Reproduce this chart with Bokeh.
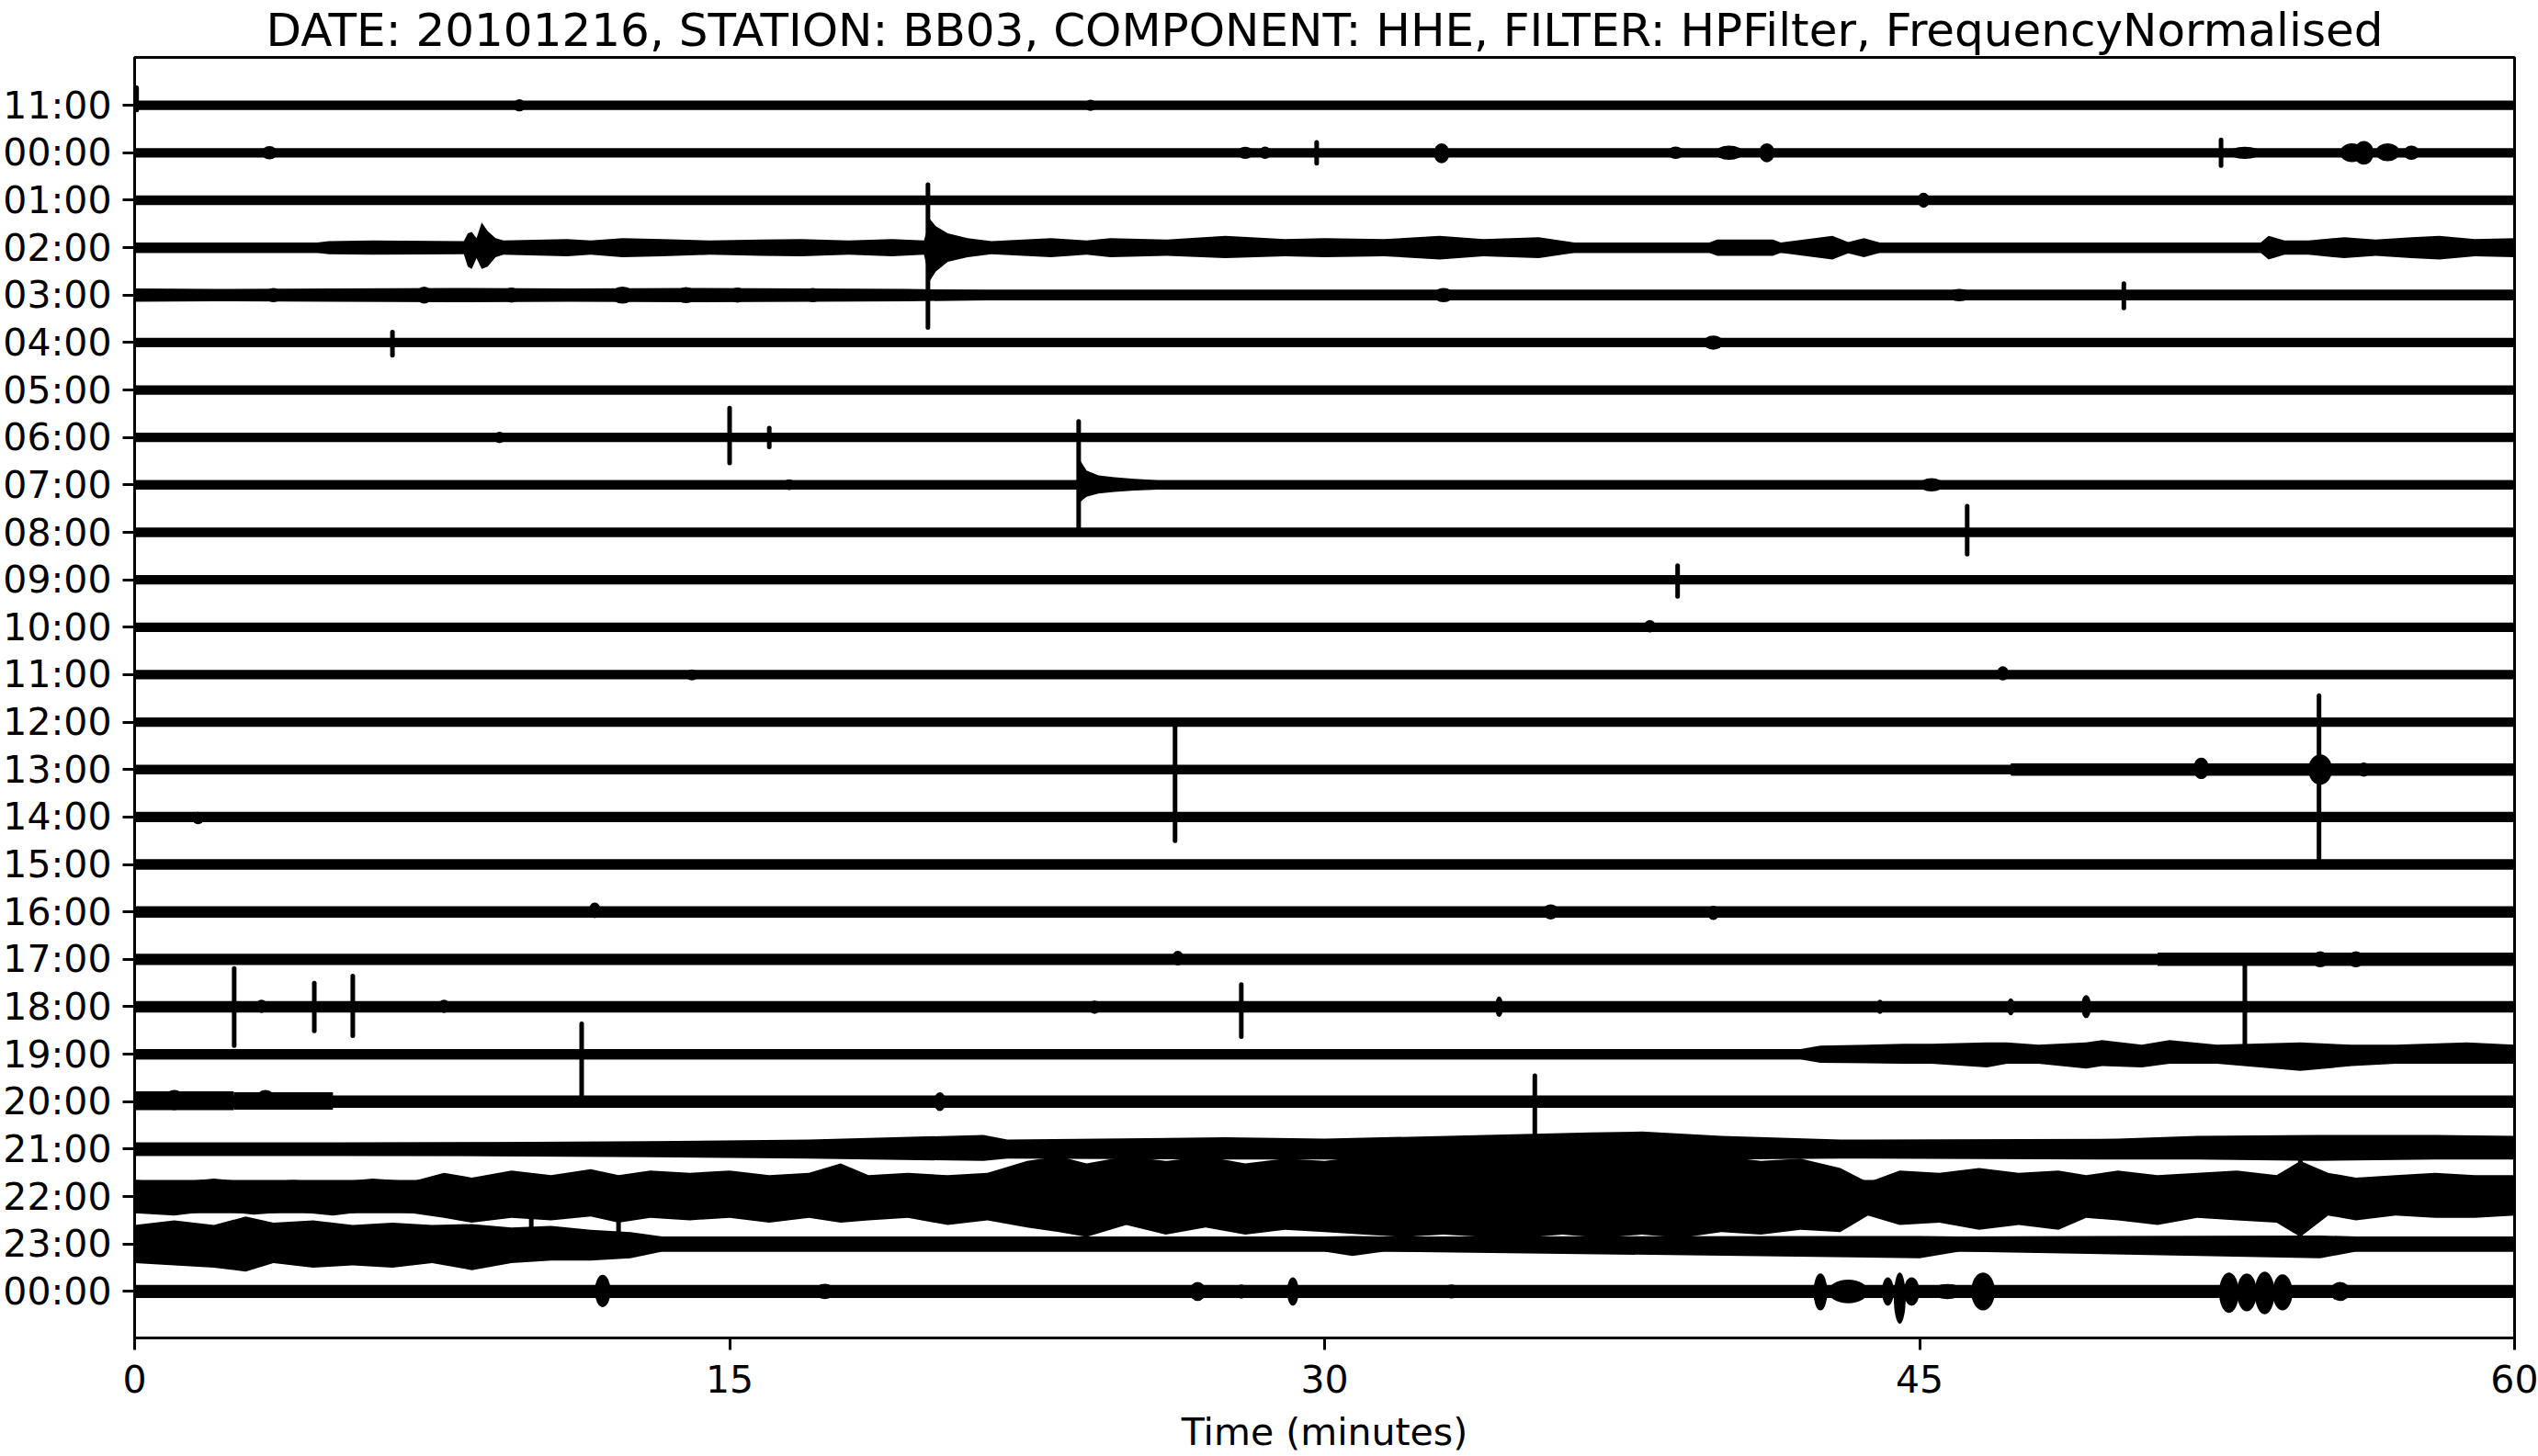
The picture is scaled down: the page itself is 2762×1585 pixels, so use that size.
from bokeh.plotting import figure
from bokeh.models import Range1d, FixedTicker, ColumnDataSource
from bokeh.embed import file_html
from bokeh.resources import INLINE

TITLE = "DATE: 20101216, STATION: BB03, COMPONENT: HHE, FILTER: HPFilter, FrequencyNormalised"

# ---- row labels (top to bottom) ----
row_labels = ["11:00", "00:00", "01:00", "02:00", "03:00", "04:00", "05:00", "06:00",
              "07:00", "08:00", "09:00", "10:00", "11:00", "12:00", "13:00", "14:00",
              "15:00", "16:00", "17:00", "18:00", "19:00", "20:00", "21:00", "22:00",
              "23:00", "00:00"]
x_ticks = [0, 15, 30, 45, 60]

# baseline noise half-amplitude per row (row spacing = 1)
noise_amp = [0.10, 0.10, 0.10, 0.11, 0.11, 0.10, 0.10, 0.10,
             0.10, 0.10, 0.10, 0.10, 0.10, 0.10, 0.10, 0.11,
             0.11, 0.12, 0.12, 0.12, 0.11, 0.13, 0.14, 0.35,
             0.16, 0.14]

# noisy segments: row, start minute, end minute, amplitude up, amplitude down
seg_row = [14, 18, 21, 21]
seg_t0 = [47.3, 51.0, 0.0, 2.5]
seg_t1 = [60.0, 60.0, 2.5, 5.0]
seg_up = [0.13, 0.14, 0.22, 0.2]
seg_dn = [0.13, 0.14, 0.18, 0.17]

# short bursts: row, centre minute, duration, amplitude up, amplitude down
burst_row = [0, 0,
             1, 1, 1, 1, 1, 1, 1, 1, 1, 1, 1, 1,
             2,
             4, 4, 4, 4, 4, 4, 4, 4, 4,
             5,
             7,
             8, 8,
             11,
             12, 12,
             14, 14, 14,
             15,
             17, 17, 17,
             18, 18, 18,
             19, 19, 19, 19, 19, 19, 19,
             21, 21, 21,
             25, 25, 25, 25, 25, 25, 25, 25, 25, 25, 25, 25, 25, 25, 25, 25, 25, 25]
burst_t = [9.7, 24.1,
           3.4, 28.0, 28.5, 32.95, 38.85, 40.2, 41.15, 53.2, 55.9, 56.2, 56.8, 57.4,
           45.1,
           3.5, 7.3, 9.5, 12.3, 13.9, 15.2, 17.1, 33.0, 46.0,
           39.8,
           9.2,
           16.5, 45.3,
           38.2,
           14.05, 47.1,
           52.1, 55.1, 56.2,
           1.6,
           11.6, 35.7, 39.8,
           26.3, 55.1, 56.0,
           3.2, 7.8, 24.2, 34.4, 44.0, 47.3, 49.2,
           1.0, 3.3, 20.3,
           11.8, 17.4, 26.8, 27.9, 29.2, 33.2, 42.5, 43.2, 44.2, 44.5, 44.8, 45.7, 46.6,
           52.8, 53.25, 53.7, 54.15, 55.6]
burst_dur = [0.3, 0.3,
             0.4, 0.4, 0.3, 0.4, 0.4, 0.7, 0.4, 0.8, 0.6, 0.5, 0.6, 0.4,
             0.3,
             0.4, 0.4, 0.4, 0.6, 0.5, 0.4, 0.4, 0.5, 0.6,
             0.5,
             0.3,
             0.3, 0.6,
             0.3,
             0.3, 0.3,
             0.4, 0.6, 0.3,
             0.3,
             0.3, 0.4, 0.3,
             0.3, 0.4, 0.4,
             0.3, 0.3, 0.3, 0.2, 0.2, 0.2, 0.25,
             0.5, 0.5, 0.3,
             0.4, 0.5, 0.4, 0.3, 0.3, 0.4, 0.35, 1.0, 0.3, 0.3, 0.4, 0.8, 0.6,
             0.5, 0.5, 0.5, 0.5, 0.5]
burst_up = [0.13, 0.12,
            0.14, 0.13, 0.13, 0.20, 0.13, 0.15, 0.20, 0.13, 0.20, 0.25, 0.20, 0.15,
            0.16,
            0.15, 0.18, 0.16, 0.18, 0.17, 0.16, 0.15, 0.15, 0.13,
            0.15,
            0.12,
            0.12, 0.14,
            0.15,
            0.11, 0.18,
            0.25, 0.32, 0.15,
            0.11,
            0.20, 0.16, 0.13,
            0.18, 0.17, 0.17,
            0.15, 0.15, 0.13, 0.22, 0.15, 0.18, 0.25,
            0.25, 0.25, 0.20,
            0.35, 0.16, 0.20, 0.15, 0.30, 0.15, 0.38, 0.25, 0.30, 0.40, 0.30, 0.16, 0.40,
            0.40, 0.38, 0.42, 0.36, 0.20]
burst_dn = [0.13, 0.12,
            0.14, 0.13, 0.13, 0.22, 0.13, 0.15, 0.20, 0.13, 0.20, 0.25, 0.18, 0.15,
            0.16,
            0.15, 0.18, 0.16, 0.18, 0.17, 0.16, 0.15, 0.15, 0.13,
            0.15,
            0.12,
            0.11, 0.14,
            0.11,
            0.12, 0.12,
            0.20, 0.32, 0.15,
            0.15,
            0.13, 0.16, 0.17,
            0.13, 0.17, 0.17,
            0.13, 0.13, 0.15, 0.22, 0.15, 0.18, 0.24,
            0.18, 0.15, 0.20,
            0.33, 0.16, 0.20, 0.15, 0.30, 0.15, 0.40, 0.25, 0.30, 0.68, 0.30, 0.16, 0.40,
            0.45, 0.42, 0.48, 0.40, 0.20]

# sharp spikes: row, minute, extent up, extent down
spike_row = [0, 1, 1, 3, 4, 5, 7, 7, 8, 9, 10, 14, 14,
             19, 19, 19, 19, 19, 20, 21, 23, 23, 23]
spike_t = [0.05, 29.8, 52.6, 20.0, 50.15, 6.5, 15.0, 16.0, 23.8, 46.2, 38.9, 26.23, 55.07,
           2.51, 4.53, 5.5, 27.9, 53.2, 11.27, 35.3, 10.0, 12.2, 54.6]
spike_up = [0.37, 0.22, 0.27, 1.33, 0.24, 0.22, 0.62, 0.20, 1.34, 0.55, 0.30, 0.92, 1.56,
            0.81, 0.50, 0.65, 0.47, 0.92, 0.64, 0.55, 0.40, 0.40, 0.90]
spike_dn = [0.10, 0.22, 0.27, 1.68, 0.27, 0.27, 0.54, 0.20, 0.92, 0.46, 0.35, 1.50, 1.89,
            0.82, 0.51, 0.61, 0.63, 0.83, 0.90, 0.87, 0.72, 0.75, 0.95]

# envelopes of the noisier traces: minute, amplitude up, amplitude down
env3_t = [0, 4.6, 4.9, 6, 8.3, 8.4, 8.5, 8.62, 8.75, 8.9, 9.1, 9.3, 10.9, 11.5, 12.3, 13.3,
          14.5, 15.8, 16.8, 18, 19.1, 19.9, 20.05, 20.2, 20.5, 21.0, 21.6, 23.1, 24.0, 24.6,
          26, 27.5, 29, 30, 31.5, 32.9, 34, 35.4, 36.3, 39.7, 39.9, 41.3, 41.5, 42.8, 43.2,
          43.6, 44.0, 53.6, 53.8, 54.2, 54.8, 55.7, 56.5, 57.4, 58.1, 59, 60]
env3_up = [0.11, 0.11, 0.14, 0.15, 0.14, 0.3, 0.33, 0.2, 0.53, 0.35, 0.2, 0.15, 0.18, 0.15, 0.2, 0.18,
           0.15, 0.17, 0.18, 0.15, 0.18, 0.15, 0.6, 0.45, 0.3, 0.2, 0.14, 0.2, 0.15, 0.2,
           0.17, 0.25, 0.18, 0.2, 0.18, 0.25, 0.18, 0.22, 0.11, 0.11, 0.17, 0.17, 0.11, 0.25, 0.12,
           0.2, 0.11, 0.11, 0.25, 0.15, 0.15, 0.22, 0.17, 0.22, 0.25, 0.18, 0.2]
env3_dn = [0.11, 0.11, 0.14, 0.15, 0.14, 0.4, 0.45, 0.22, 0.45, 0.4, 0.2, 0.15, 0.18, 0.15, 0.2, 0.18,
           0.15, 0.17, 0.18, 0.15, 0.18, 0.15, 0.7, 0.5, 0.3, 0.2, 0.14, 0.2, 0.15, 0.2,
           0.17, 0.22, 0.18, 0.2, 0.18, 0.25, 0.18, 0.22, 0.11, 0.11, 0.17, 0.17, 0.11, 0.25, 0.12,
           0.2, 0.11, 0.11, 0.25, 0.15, 0.15, 0.22, 0.17, 0.22, 0.25, 0.18, 0.2]

env4_t = [0, 2, 5, 8, 11, 14, 17, 19.5, 21.5, 60]
env4_up = [0.14, 0.13, 0.14, 0.15, 0.14, 0.15, 0.14, 0.13, 0.11, 0.11]
env4_dn = [0.14, 0.13, 0.14, 0.15, 0.14, 0.15, 0.14, 0.13, 0.11, 0.11]

env8_t = [0, 23.75, 23.85, 24.0, 24.3, 24.7, 25.2, 25.8, 60]
env8_up = [0.10, 0.10, 0.5, 0.3, 0.2, 0.16, 0.13, 0.10, 0.10]
env8_dn = [0.10, 0.10, 0.35, 0.25, 0.18, 0.15, 0.12, 0.10, 0.10]

env20_t = [0, 42, 42.5, 44.6, 45.3, 46.7, 47.2, 48, 49.2, 49.6, 50.6, 51.3, 52.5, 54.6, 55.9, 57, 58.8, 60]
env20_up = [0.11, 0.11, 0.18, 0.22, 0.22, 0.25, 0.25, 0.2, 0.25, 0.3, 0.2, 0.3, 0.2, 0.25, 0.2, 0.2, 0.25, 0.2]
env20_dn = [0.11, 0.11, 0.18, 0.2, 0.2, 0.28, 0.2, 0.2, 0.3, 0.25, 0.28, 0.2, 0.2, 0.35, 0.25, 0.2, 0.2, 0.2]

env22_t = [0, 5, 9, 13, 17, 21.4, 22, 27.5, 30, 36.7, 38, 40, 43, 50, 52, 55, 58, 60]
env22_up = [0.14, 0.14, 0.15, 0.17, 0.2, 0.3, 0.2, 0.25, 0.22, 0.35, 0.37, 0.28, 0.2, 0.22, 0.28, 0.3, 0.3, 0.28]
env22_dn = [0.14, 0.14, 0.15, 0.17, 0.2, 0.25, 0.2, 0.22, 0.22, 0.25, 0.25, 0.22, 0.2, 0.22, 0.22, 0.25, 0.22, 0.22]

env23_t = [0, 1, 2, 3, 4, 5, 6, 7, 7.8, 8.5, 9.5, 10.5, 11.5, 12.2, 13, 14, 15, 16, 17, 17.8,
           18.5, 19.5, 20.5, 21.5, 22.5, 23.3, 24, 25, 26, 27, 28, 29, 30, 31, 32, 33, 34, 35,
           36, 37, 38, 39, 40, 41, 42, 43, 43.7, 44.5, 45.5, 46.5, 47.5, 48.5, 49.2, 50, 51,
           52, 53, 54, 54.6, 55.3, 56, 57, 58, 59, 60]
env23_up = [0.35, 0.3, 0.38, 0.3, 0.35, 0.3, 0.38, 0.32, 0.5, 0.4, 0.55, 0.45, 0.58, 0.45, 0.55,
            0.5, 0.55, 0.45, 0.5, 0.7, 0.45, 0.5, 0.45, 0.5, 0.75, 0.85, 0.7, 0.85, 0.75, 0.85,
            0.7, 0.8, 0.75, 0.85, 0.8, 0.87, 0.8, 0.87, 0.85, 0.87, 0.85, 0.8, 0.85, 0.75, 0.8,
            0.6, 0.3, 0.55, 0.5, 0.6, 0.5, 0.55, 0.45, 0.55, 0.45, 0.5, 0.55, 0.45, 0.75, 0.5,
            0.4, 0.45, 0.5, 0.45, 0.45]
env23_dn = [0.35, 0.4, 0.3, 0.38, 0.32, 0.4, 0.3, 0.35, 0.45, 0.55, 0.45, 0.5, 0.42, 0.55, 0.45,
            0.5, 0.45, 0.55, 0.45, 0.55, 0.5, 0.45, 0.6, 0.5, 0.65, 0.75, 0.85, 0.6, 0.8, 0.65,
            0.8, 0.7, 0.75, 0.8, 0.85, 0.8, 0.85, 0.87, 0.8, 0.87, 0.8, 0.87, 0.75, 0.8, 0.7,
            0.75, 0.4, 0.6, 0.55, 0.7, 0.6, 0.7, 0.45, 0.5, 0.6, 0.45, 0.5, 0.55, 0.85, 0.4,
            0.5, 0.4, 0.45, 0.45, 0.4]

env24_t = [0, 1, 2, 2.8, 3.5, 4.5, 5.5, 6.5, 7.5, 8.5, 9.5, 10.5, 11.5, 12.5, 13.3, 30,
           30.7, 31.5, 45, 46, 55.1, 56, 60]
env24_up = [0.4, 0.5, 0.4, 0.58, 0.45, 0.5, 0.4, 0.45, 0.4, 0.42, 0.35, 0.38, 0.3, 0.25, 0.16, 0.16,
            0.17, 0.16, 0.17, 0.16, 0.18, 0.16, 0.16]
env24_dn = [0.4, 0.45, 0.5, 0.58, 0.4, 0.5, 0.45, 0.5, 0.4, 0.55, 0.4, 0.35, 0.35, 0.3, 0.16, 0.16,
            0.25, 0.16, 0.3, 0.16, 0.3, 0.16, 0.16]

envelopes = [(3, env3_t, env3_up, env3_dn), (4, env4_t, env4_up, env4_dn),
             (8, env8_t, env8_up, env8_dn),
             (20, env20_t, env20_up, env20_dn), (22, env22_t, env22_up, env22_dn),
             (23, env23_t, env23_up, env23_dn), (24, env24_t, env24_up, env24_dn)]

INK = "#000000"
FONT = "DejaVu Sans"

n_rows = len(row_labels)
p = figure(width=2762, height=1585, output_backend="svg", toolbar_location=None,
           x_range=Range1d(0, 60), y_range=Range1d(n_rows - 0.02, -1.01),
           min_border_left=146, min_border_right=26, min_border_top=60, min_border_bottom=126,
           background_fill_color="white", border_fill_color="white")

p.title.text = TITLE
p.title.align = "center"
p.title.text_font = FONT
p.title.text_font_size = "50px"
p.title.text_font_style = "normal"
p.title.text_color = INK
p.title.standoff = 2

p.grid.visible = False
p.outline_line_color = INK
p.outline_line_width = 3

# baseline bands
rows = list(range(n_rows))
p.quad(left=[0] * n_rows, right=[60] * n_rows,
       top=[r - a for r, a in zip(rows, noise_amp)],
       bottom=[r + a for r, a in zip(rows, noise_amp)],
       fill_color=INK, line_color=None)

# noisy segments
p.quad(left=seg_t0, right=seg_t1,
       top=[r - u for r, u in zip(seg_row, seg_up)],
       bottom=[r + d for r, d in zip(seg_row, seg_dn)],
       fill_color=INK, line_color=None)

# envelopes
for r, t, up, dn in envelopes:
    p.varea(x=t, y1=[r - u for u in up], y2=[r + d for d in dn], fill_color=INK)

# bursts
bsrc = ColumnDataSource(dict(
    x=burst_t,
    y=[r + (d - u) / 2 for r, u, d in zip(burst_row, burst_up, burst_dn)],
    w=burst_dur,
    h=[u + d for u, d in zip(burst_up, burst_dn)]))
p.ellipse(x="x", y="y", width="w", height="h", source=bsrc, fill_color=INK, line_color=None)

# spikes
p.segment(x0=spike_t, x1=spike_t,
          y0=[r - u for r, u in zip(spike_row, spike_up)],
          y1=[r + d for r, d in zip(spike_row, spike_dn)],
          line_color=INK, line_width=5, line_cap="round")

# axes
p.xaxis.ticker = FixedTicker(ticks=x_ticks)
p.xaxis.axis_label = "Time (minutes)"
p.yaxis.ticker = FixedTicker(ticks=rows)
p.yaxis.major_label_overrides = {i: lab for i, lab in enumerate(row_labels)}
for ax in (p.xaxis, p.yaxis):
    ax.axis_line_width = 3
    ax.axis_line_color = INK
    ax.major_tick_line_width = 3
    ax.major_tick_line_color = INK
    ax.major_tick_out = 13
    ax.major_tick_in = 0
    ax.minor_tick_line_color = None
    ax.major_label_text_font = FONT
    ax.major_label_text_font_size = "41px"
    ax.major_label_text_color = INK
    ax.major_label_standoff = 12
    ax.axis_label_text_font = FONT
    ax.axis_label_text_font_size = "41px"
    ax.axis_label_text_font_style = "normal"
    ax.axis_label_text_color = INK
p.xaxis.major_label_standoff = 16
p.xaxis.axis_label_standoff = 16

open("out.html", "w").write(file_html(p, INLINE))
